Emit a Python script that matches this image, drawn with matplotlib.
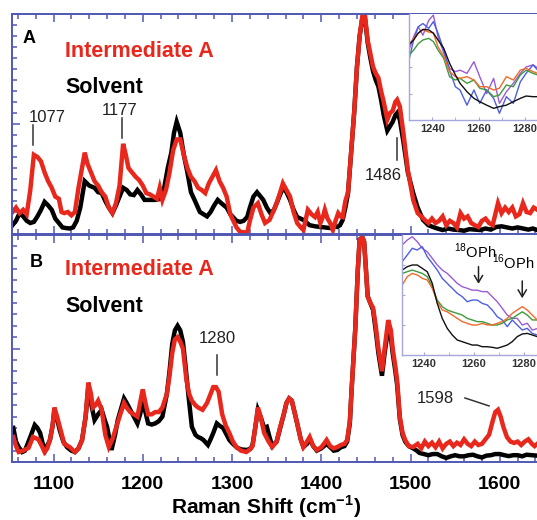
import numpy as np
import matplotlib
matplotlib.use("Agg")
import matplotlib.pyplot as plt
from matplotlib.ticker import MultipleLocator

plt.rcParams['font.family'] = ['Liberation Sans', 'DejaVu Sans']
plt.rcParams['mathtext.fontset'] = 'custom'
plt.rcParams['mathtext.rm'] = 'Liberation Sans'
plt.rcParams['mathtext.bf'] = 'Liberation Sans:bold'

# ---- panel A spectra: (Raman shift, intensity 0-100)
a_red = np.array([
    (1054, 10), (1058, 12), (1062, 9.5), (1066, 11), (1070, 9), (1074, 20), (1078, 36), (1082, 35),
    (1086, 33), (1090, 28), (1094, 24), (1098, 21), (1102, 17), (1106, 16), (1109, 10), (1112, 9.5),
    (1116, 10), (1120, 8.5), (1124, 10), (1128, 21), (1132, 30), (1135, 37), (1138, 32), (1142, 28),
    (1146, 24), (1150, 22), (1154, 19), (1158, 17), (1162, 12), (1166, 9.5), (1170, 14), (1174, 22),
    (1178, 41), (1181, 36), (1184, 30), (1188, 28), (1192, 26), (1196, 24.5), (1200, 22), (1204, 18.6),
    (1208, 18), (1212, 17), (1216, 16), (1219, 21), (1222, 15.5), (1226, 20), (1230, 28), (1234, 38),
    (1238, 43), (1242, 43), (1246, 36), (1250, 30), (1254, 26), (1258, 24), (1262, 21), (1266, 20),
    (1270, 18.6), (1274, 23), (1278, 26), (1282, 29), (1286, 24), (1290, 21), (1294, 17), (1298, 9),
    (1301, 6.4), (1305, 3), (1309, 1), (1313, 0.8), (1317, 0.5), (1320, 6), (1324, 12), (1329, 14),
    (1333, 9), (1337, 5), (1342, 6.4), (1346, 10), (1350, 14), (1354, 19), (1357, 23), (1361, 20),
    (1365, 17), (1369, 10), (1373, 5), (1377, 3), (1380, 1.8), (1385, 11), (1389, 9), (1393, 7.7),
    (1396, 10), (1399, 5), (1402, 8), (1404, 11), (1407, 7), (1410, 5), (1413, 1.8), (1416, 6),
    (1419, 9.5), (1422, 8), (1424, 7.7), (1427, 15), (1430, 19), (1434, 40), (1437, 56), (1440, 76),
    (1443, 90), (1446, 99), (1449, 99), (1452, 88), (1455, 82), (1458, 76), (1461, 73), (1464, 71),
    (1467, 65), (1470, 60), (1474, 52), (1477, 55), (1480, 56), (1483, 60), (1485, 61), (1488, 58),
    (1492, 46), (1497, 29), (1503, 15.5), (1508, 9.5), (1512, 8), (1516, 6.4), (1520, 5), (1524, 7),
    (1528, 5), (1532, 6), (1536, 8), (1540, 4), (1544, 6), (1548, 5), (1552, 3), (1556, 9.5),
    (1560, 7), (1564, 8), (1568, 5), (1572, 4), (1576, 3.2), (1580, 6), (1584, 7), (1588, 5),
    (1592, 4), (1595, 9), (1598, 14), (1602, 9.5), (1606, 12), (1610, 10), (1614, 12), (1618, 8),
    (1622, 9), (1626, 14), (1630, 10), (1634, 9.5), (1638, 12), (1642, 11)])

a_black = np.array([
    (1054, 4), (1058, 6), (1062, 9.5), (1066, 8), (1070, 6), (1074, 5), (1078, 5.5), (1082, 8),
    (1086, 11), (1090, 14.6), (1094, 13), (1098, 11), (1102, 7), (1106, 5), (1110, 3), (1114, 2.7),
    (1118, 2.5), (1122, 3), (1126, 6), (1130, 12), (1135, 24), (1140, 22), (1146, 21), (1150, 19),
    (1154, 18.6), (1158, 15), (1162, 12), (1166, 9.5), (1170, 13), (1174, 17), (1178, 21), (1182, 20),
    (1186, 18), (1190, 17.7), (1194, 20), (1198, 18), (1202, 15.5), (1208, 15.5), (1214, 15.5), (1220, 16),
    (1224, 21), (1228, 30), (1232, 37), (1235, 46), (1238, 51), (1242, 46), (1246, 36), (1250, 28),
    (1254, 19), (1258, 15.5), (1264, 10), (1268, 9), (1272, 8), (1276, 10), (1280, 13), (1284, 15.5),
    (1288, 14), (1294, 12), (1298, 9), (1301, 7.7), (1305, 6), (1309, 5.5), (1313, 6), (1317, 7.7),
    (1320, 12), (1324, 17), (1328, 19), (1332, 17), (1335, 15.5), (1339, 12), (1343, 9.5), (1347, 11),
    (1350, 14), (1354, 18), (1357, 21), (1361, 19), (1365, 15.5), (1369, 11), (1373, 7.7), (1380, 6.4),
    (1387, 4), (1393, 3.5), (1399, 3.2), (1404, 3), (1410, 2.7), (1414, 3.5), (1418, 3.2), (1421, 4),
    (1424, 6.4), (1427, 12), (1430, 18.6), (1434, 40), (1437, 56), (1440, 76), (1443, 90), (1446, 98),
    (1449, 98), (1452, 87), (1455, 80), (1458, 74), (1461, 70), (1464, 67), (1467, 61), (1470, 54),
    (1474, 47), (1477, 49), (1480, 51), (1483, 54), (1485, 55), (1488, 52), (1492, 42), (1497, 28),
    (1503, 18.6), (1508, 12), (1514, 6.4), (1520, 4), (1525, 3.2), (1530, 2.5), (1536, 1.8), (1542, 2.5),
    (1548, 2), (1554, 1.8), (1560, 1.5), (1566, 2.2), (1572, 2), (1578, 1.8), (1584, 2.5), (1590, 2),
    (1596, 3.2), (1602, 3.5), (1608, 3), (1614, 2.5), (1620, 3), (1626, 2.5), (1632, 2), (1637, 2.5),
    (1642, 1.8)])

# ---- panel B spectra
b_red = np.array([
    (1055, 11), (1058, 7), (1061, 4.4), (1066, 5), (1072, 6.2), (1077, 11), (1080, 10.5), (1083, 10),
    (1087, 7), (1090, 4.4), (1093, 6), (1096, 9.7), (1099, 16), (1101, 24), (1104, 20), (1107, 15.5),
    (1112, 8), (1118, 6.6), (1124, 4.4), (1128, 6), (1132, 9.7), (1136, 20), (1139, 35), (1142, 30),
    (1144, 24), (1147, 25), (1150, 27), (1154, 23), (1158, 12), (1162, 6.6), (1166, 10), (1170, 15),
    (1174, 20), (1179, 26), (1182, 24), (1186, 22), (1190, 21), (1194, 20), (1197, 26), (1200, 32),
    (1203, 26), (1206, 21), (1210, 21), (1214, 22), (1218, 22), (1222, 24), (1227, 30), (1230, 38),
    (1233, 48), (1236, 54), (1239, 55), (1242, 53), (1245, 50), (1249, 36), (1252, 30), (1255, 27),
    (1259, 25), (1262, 24), (1267, 23), (1272, 26), (1276, 30), (1279, 33), (1282, 33), (1285, 31),
    (1289, 21), (1293, 16), (1297, 12.8), (1301, 9), (1305, 6.6), (1310, 5), (1316, 4.4), (1320, 5.5),
    (1323, 7), (1326, 15), (1329, 24), (1332, 20), (1336, 12.8), (1341, 9), (1345, 6.6), (1350, 9),
    (1354, 15.5), (1358, 21), (1361, 26), (1364, 28), (1367, 27), (1370, 22), (1373, 17), (1377, 10),
    (1380, 6.6), (1384, 9), (1387, 11), (1391, 7), (1395, 5.3), (1400, 6.5), (1403, 8), (1406, 9.7),
    (1410, 7), (1414, 6), (1418, 6.6), (1422, 7.5), (1426, 8), (1429, 9.7), (1432, 18), (1434, 32),
    (1438, 58), (1441, 85), (1443, 98), (1446, 99), (1448, 97), (1450, 85), (1452, 73), (1455, 70),
    (1458, 68), (1461, 60), (1464, 50), (1468, 40), (1471, 50), (1475, 62.5), (1478, 58), (1480, 50),
    (1483, 42), (1485, 36), (1488, 20), (1491, 13), (1494, 9.7), (1498, 7), (1503, 6.6), (1508, 8),
    (1512, 6), (1516, 9), (1520, 7), (1524, 8.5), (1528, 6.5), (1532, 9), (1536, 6), (1540, 8),
    (1544, 9), (1548, 7), (1552, 8.5), (1556, 7.5), (1560, 10), (1564, 8), (1568, 7), (1572, 9),
    (1576, 7.5), (1580, 8), (1584, 10), (1588, 12), (1592, 18), (1595, 22), (1598, 23), (1601, 20),
    (1604, 15.5), (1608, 11), (1612, 9), (1616, 8.4), (1620, 9), (1624, 7.5), (1628, 9), (1632, 10),
    (1636, 8), (1639, 7), (1642, 8)])

b_black = np.array([
    (1055, 15), (1058, 9), (1061, 6.6), (1065, 4.4), (1068, 5), (1071, 8), (1074, 11), (1079, 16.3),
    (1082, 15), (1085, 12.8), (1088, 8), (1091, 5.3), (1096, 9.7), (1099, 16), (1101, 23), (1104, 19),
    (1107, 14), (1111, 9), (1115, 6.6), (1120, 5), (1124, 4.4), (1128, 6), (1132, 9.7), (1136, 20),
    (1139, 33), (1142, 26), (1146, 18.5), (1150, 21), (1154, 23), (1157, 19), (1160, 15.5), (1165, 5.3),
    (1169, 12), (1172, 18.5), (1176, 24), (1179, 28), (1182, 26), (1186, 23), (1190, 20), (1194, 17),
    (1197, 21), (1200, 26), (1203, 22), (1206, 17), (1210, 16.5), (1214, 17), (1218, 18), (1222, 20),
    (1227, 30), (1230, 40), (1233, 52), (1236, 58), (1239, 60), (1242, 58), (1245, 53), (1248, 42),
    (1251, 30), (1255, 15.5), (1259, 12), (1262, 11), (1265, 10.5), (1268, 9.7), (1273, 7.5), (1276, 10),
    (1279, 12.8), (1283, 17), (1286, 16), (1290, 15), (1294, 12), (1297, 9.7), (1301, 8), (1306, 6.2),
    (1311, 5.5), (1317, 5.3), (1321, 6), (1323, 7.5), (1326, 15), (1329, 23), (1332, 20), (1336, 15),
    (1339, 15.5), (1342, 11), (1345, 7), (1350, 9), (1354, 15), (1358, 21), (1361, 26), (1364, 28),
    (1367, 27), (1370, 22), (1373, 17), (1377, 10), (1380, 6.6), (1384, 8), (1387, 10), (1391, 7),
    (1395, 5), (1400, 6), (1403, 7), (1406, 8), (1410, 6.5), (1414, 5), (1418, 5.3), (1422, 6.5),
    (1426, 7), (1429, 9), (1432, 17), (1434, 32), (1438, 58), (1441, 85), (1443, 98), (1446, 99),
    (1448, 97), (1450, 85), (1452, 73), (1455, 70), (1458, 67), (1461, 58), (1464, 48), (1468, 38),
    (1471, 48), (1475, 59), (1478, 55), (1480, 48), (1483, 40), (1485, 34), (1488, 19), (1491, 12),
    (1494, 9), (1498, 7), (1503, 6), (1507, 5), (1510, 4), (1515, 3.5), (1520, 3), (1525, 3.5),
    (1530, 3.5), (1535, 2.5), (1540, 1.8), (1545, 2.5), (1550, 3), (1555, 2.5), (1560, 2.5), (1565, 3),
    (1570, 3.2), (1575, 2.5), (1580, 2), (1585, 2.8), (1590, 3), (1595, 3.5), (1600, 3.5), (1605, 3),
    (1610, 2.6), (1615, 3), (1620, 3), (1625, 2.5), (1630, 3.2), (1636, 3), (1642, 2.8)])

# ---- inset A (1230-1285 region)
ins_a_x = [1230, 1232, 1234, 1236, 1238.5, 1240.5, 1242.5, 1245, 1247.5, 1250, 1252, 1255,
           1258, 1260.5, 1263.5, 1266.5, 1269, 1272, 1275, 1278, 1280.5, 1283.5, 1285.5]
ins_a_black = [71, 75.5, 82, 85.5, 85, 82, 75.5, 67.6, 53.5, 42.5, 34.6, 26.7, 20.4, 17.3, 14, 11,
               12.6, 14, 17.3, 20.4, 22.6, 22, 22]
ins_a_orange = [71, 77, 82, 85, 83, 82, 69, 60, 45.6, 40.9, 39.3, 40.9, 37.7, 31.4, 31.4, 28.3,
                30, 40.9, 37.7, 47, 48.7, 45.6, 44]
ins_a_green = [61, 66, 72, 75.5, 77, 74, 66, 58, 40.9, 37.7, 39.3, 34.6, 37.7, 30, 28.3, 22,
               23.6, 33, 31.4, 42.5, 47, 44, 42.5]
ins_a_blue = [56.6, 75.5, 88, 91, 86.5, 92.8, 82, 66, 47, 31.4, 28.3, 14, 28.3, 15.7, 28.3, 20.4,
              6.3, 22, 15.7, 36, 44, 52, 47]
ins_a_purple = [66, 78.6, 88, 80, 94, 99, 78.6, 63, 48.7, 45.6, 47, 44, 55, 40.9, 25, 39.3,
                15.7, 26.7, 34.6, 44, 50, 52, 49]

# ---- inset B
ins_b_x = [1231.5, 1233.5, 1235.5, 1237.5, 1239.5, 1241.5, 1243.5, 1245.5, 1247.5, 1249.5,
           1251.5, 1253.5, 1255.5, 1257.5, 1259.5, 1261.5, 1263.5, 1265.5, 1267.5, 1269.5,
           1271.5, 1273.5, 1275.5, 1277.5, 1279.5, 1281.5, 1283.5, 1285.5]
ins_b_purple = [91.7, 95.8, 98.6, 94.4, 88.9, 86, 80.6, 75, 70.8, 68, 63.9, 59.7, 56.9, 55.6,
                54, 54, 52.8, 52.8, 48.6, 44.4, 38.9, 33.3, 30.5, 30.5, 25, 26.4, 20.8, 22]
ins_b_blue = [77.8, 83.3, 88.9, 87.5, 90.3, 81.9, 76.4, 70.8, 63.9, 59.7, 55.6, 51.4, 48.6, 44.4,
              45.8, 45.8, 43, 41.7, 37.5, 31.9, 29.2, 23.6, 29.2, 25, 20.8, 22.2, 18, 16.7]
ins_b_black = [70.8, 73.6, 75, 75, 72.2, 69.4, 59.7, 43, 30.5, 22.2, 16.7, 12.5, 11.1, 9.7,
               8.3, 8.3, 6.9, 6.9, 6.4, 5.6, 6.9, 8.3, 11.1, 15.3, 17.5, 18, 16.7, 15.3]
ins_b_green = [68, 69.4, 70.8, 69.4, 68, 65.3, 57, 45.8, 40.3, 37.5, 36, 34.7, 33.3, 30.5,
               29.2, 27.8, 27.8, 26.4, 25, 25, 26.4, 29.2, 30.5, 33.3, 36, 33.3, 29.2, 29.2]
ins_b_orange = [58.3, 65.3, 68, 66.7, 63.9, 62.5, 55.6, 44.4, 37.5, 36, 33.3, 30.5, 27.8, 26.4,
                25, 25, 26.4, 25, 25, 26.4, 27.8, 30.5, 34.7, 37.5, 40.3, 37.5, 33.3, 29.2]

xticks = [1100, 1200, 1300, 1400, 1500, 1600]
ins_ticks = [1240, 1260, 1280]

RED = '#e8281c'
SPINE = '#5158b4'
INS_SPINE = '#a6a6dc'

fig = plt.figure(figsize=(5.37, 5.2), dpi=100)
W, H = 537.0, 520.0


def px_axes(x0, y0, x1, y1):
    return fig.add_axes([x0 / W, 1 - y1 / H, (x1 - x0) / W, (y1 - y0) / H])


axA = px_axes(12, 14, 537, 234)
axB = px_axes(12, 235, 537, 462)

for ax, blk, red in [(axA, a_black, a_red), (axB, b_black, b_red)]:
    ax.plot(blk[:, 0], blk[:, 1], color='black', lw=3.2, solid_joinstyle='miter')
    ax.plot(red[:, 0], red[:, 1], color=RED, lw=3.2, solid_joinstyle='miter')
    ax.set_xlim(1053.5, 1641.7)
    ax.set_ylim(0, 100)
    for s in ax.spines.values():
        s.set_color(SPINE)
        s.set_linewidth(1.4)
    ax.spines['right'].set_visible(False)
    ax.xaxis.set_major_locator(MultipleLocator(100))
    ax.xaxis.set_minor_locator(MultipleLocator(20))
    ax.yaxis.set_major_locator(MultipleLocator(50))
    ax.yaxis.set_minor_locator(MultipleLocator(5))
    ax.tick_params(which='both', direction='in', top=True, bottom=True, left=True, right=False,
                   color=SPINE, width=1.1)
    ax.tick_params(which='major', length=6)
    ax.tick_params(which='minor', length=3.5)
    ax.set_yticklabels([])

axA.set_xticklabels([])
axB.set_xticks(xticks)
axB.set_xticklabels([str(t) for t in xticks], fontsize=14, fontweight='bold')
axB.tick_params(axis='x', which='major', pad=10)

# labels in panels
for ax, letter, fx_l, fy_l, fy_i, fy_s in [(axA, 'A', 0.021, 0.868, 0.805, 0.641),
                                           (axB, 'B', 0.034, 0.859, 0.824, 0.661)]:
    ax.text(fx_l, fy_l, letter, transform=ax.transAxes,
            fontsize=13, fontweight='bold', va='baseline')
    ax.text(0.101, fy_i, 'Intermediate A', transform=ax.transAxes, color=RED,
            fontsize=15.5, fontweight='bold', va='baseline')
    ax.text(0.101, fy_s, 'Solvent', transform=ax.transAxes, color='black',
            fontsize=15.5, fontweight='bold', va='baseline')

ann_kw = dict(fontsize=12, ha='center', va='baseline', color='#222222')
axA.text(0.0667, 0.509, '1077', transform=axA.transAxes, **ann_kw)
axA.plot([1077, 1077], [40.5, 49.5], color='#333333', lw=1.1)
axA.text(0.2057, 0.541, '1177', transform=axA.transAxes, **ann_kw)
axA.plot([1177, 1177], [43.6, 52.7], color='#333333', lw=1.1)
axA.text(0.7067, 0.245, '1486', transform=axA.transAxes, **ann_kw)
axA.plot([1485, 1485], [33.6, 43.6], color='#333333', lw=1.1)

axB.text(0.3905, 0.524, '1280', transform=axB.transAxes, **ann_kw)
axB.plot([1283, 1283], [38.3, 47], color='#333333', lw=1.1)
axB.text(0.806, 0.26, '1598', transform=axB.transAxes, **ann_kw)
axB.plot([1561, 1588], [28.2, 24.7], color='#333333', lw=1.1)

fig.text(266 / W, 1 - 507 / H, r'Raman Shift (cm$^{\mathbf{-1}}$)', ha='center', va='center',
         fontsize=15, fontweight='bold')

# insets
insA = px_axes(409, 14, 537, 120)
insB = px_axes(402, 235, 537, 355)
cols = {'purple': '#9a5cd6', 'blue': '#4d5fe0', 'green': '#3d9a3d', 'orange': '#f06a2a', 'black': '#111111'}

for ins, xs, series in [
        (insA, ins_a_x, [(ins_a_purple, 'purple'), (ins_a_blue, 'blue'), (ins_a_green, 'green'),
                         (ins_a_orange, 'orange'), (ins_a_black, 'black')]),
        (insB, ins_b_x, [(ins_b_purple, 'purple'), (ins_b_blue, 'blue'), (ins_b_green, 'green'),
                         (ins_b_orange, 'orange'), (ins_b_black, 'black')])]:
    ins.set_facecolor('white')
    for ys, c in series:
        ins.plot(xs, ys, color=cols[c], lw=1.0)
    ins.set_ylim(0, 100)
    for s in ins.spines.values():
        s.set_color(INS_SPINE)
        s.set_linewidth(1.0)
    ins.spines['right'].set_visible(False)
    ins.set_xticks(ins_ticks)
    ins.set_xticklabels([str(t) for t in ins_ticks], fontsize=8, fontweight='bold', color='#333333')
    ins.xaxis.set_minor_locator(MultipleLocator(10))
    ins.set_yticks([25, 50, 75])
    ins.set_yticklabels([])
    ins.tick_params(which='both', direction='in', color=INS_SPINE, length=2.5, pad=3,
                    top=False, right=False)

insA.set_xlim(1230, 1285.2)
insB.set_xlim(1231.4, 1285.4)
insA.spines['top'].set_visible(False)
insB.spines['top'].set_visible(False)

insB.text(1260.5, 81, r'$^{18}$OPh', fontsize=10.5, ha='center', va='baseline')
insB.text(1276, 72, r'$^{16}$OPh', fontsize=10.5, ha='center', va='baseline')
arrow = dict(arrowstyle='->,head_length=0.5,head_width=0.3', color='#222222', lw=1.1)
insB.annotate('', xy=(1262, 57), xytext=(1262, 76), arrowprops=arrow)
insB.annotate('', xy=(1279.5, 45), xytext=(1279.5, 64), arrowprops=arrow)

fig.savefig('out.png', dpi=100)
